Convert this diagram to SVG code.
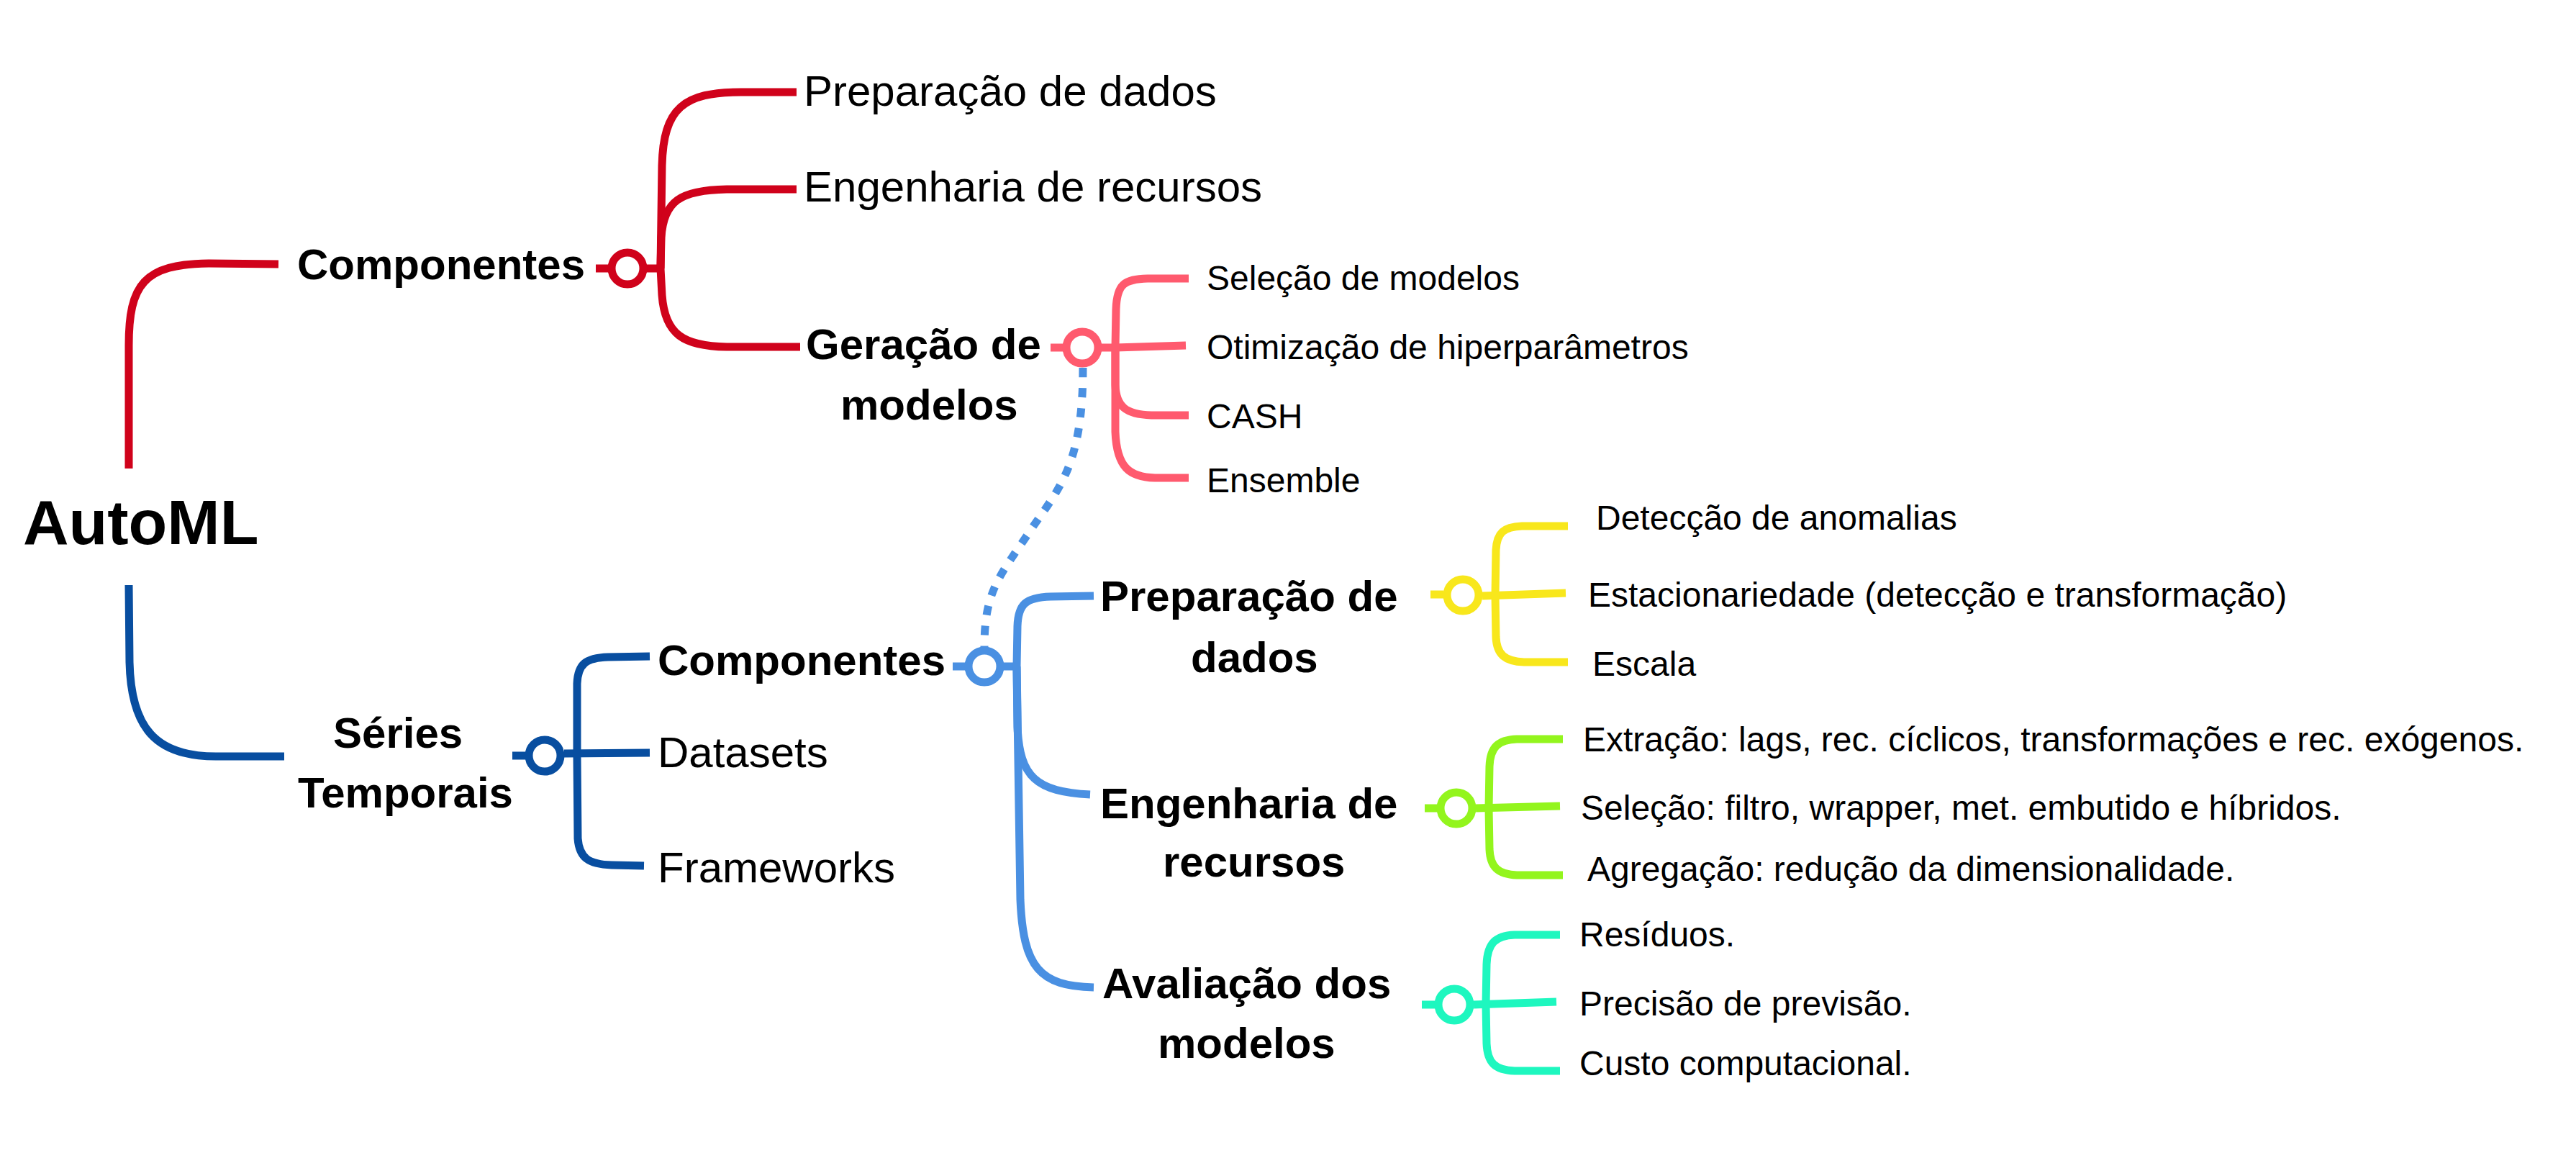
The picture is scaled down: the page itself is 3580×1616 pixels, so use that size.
<svg xmlns="http://www.w3.org/2000/svg" width="3580" height="1616" viewBox="0 0 3580 1616">
<style>
.t{font-family:"Liberation Sans",Arial,sans-serif;fill:#000}
.b{font-weight:bold}
.n60{font-size:60px}
.n47{font-size:48px}
.c{fill:none;stroke-width:11;stroke-linecap:butt;stroke-linejoin:round}
.j{fill:#fff;stroke-width:11}
.red{stroke:#D0021B}
.pink{stroke:#FF5A6E}
.dblue{stroke:#084EA0}
.lblue{stroke:#4A90E2}
.yel{stroke:#F8E71C}
.grn{stroke:#93F51D}
.teal{stroke:#1EF7BF}
</style>
<rect width="3580" height="1616" fill="#fff"/>

<g id="connectors">
  <!-- AutoML level -->
  <path class="c red" d="M179 651 L179 480 C179 395 200 367 290 366 L387 367"/>
  <path class="c dblue" d="M179 813 L180 920 C182 1010 215 1051 300 1051 L395 1051"/>

  <!-- Componentes (red) -->
  <path class="c red" d="M828 373 L850 373 M894 373 L918 373"/>
  <path class="c red" d="M918 373 L920 230 C922 150 950 128 1030 128 L1107 128"/>
  <path class="c red" d="M918 373 L919 330 C922 280 945 264 1010 263 L1107 263"/>
  <path class="c red" d="M918 373 L920 410 C924 465 950 481 1010 482 L1112 482"/>

  <!-- Geração de modelos (pink) -->
  <path class="c pink" d="M1460 483 L1478 483 M1530 483 L1550 483 L1648 480"/>
  <path class="c pink" d="M1550 483 L1551 430 C1552 395 1562 388 1595 387 L1652 387"/>
  <path class="c pink" d="M1550 483 L1550 535 C1551 565 1565 576 1600 577 L1652 577"/>
  <path class="c pink" d="M1550 483 L1550 600 C1552 650 1570 663 1605 664 L1652 664"/>

  <!-- dotted relation -->
  <path class="c lblue" stroke-dasharray="13 15" d="M1505 511 C1505 650 1470 680 1430 740 S1368 820 1368 899"/>

  <!-- Séries Temporais (dark blue) -->
  <path class="c dblue" d="M712 1050 L730 1050 M784 1047 L903 1046"/>
  <path class="c dblue" d="M802 1050 L802 950 C803 922 815 914 845 913 L903 912"/>
  <path class="c dblue" d="M802 1050 L803 1165 C805 1192 818 1201 850 1202 L895 1203"/>

  <!-- Componentes (light blue) -->
  <path class="c lblue" d="M1324 926 L1342 926 M1394 926 L1413 926"/>
  <path class="c lblue" d="M1413 926 L1414 870 C1415 840 1425 830 1460 829 L1520 828"/>
  <path class="c lblue" d="M1413 926 L1414 1010 C1417 1080 1440 1100 1515 1104"/>
  <path class="c lblue" d="M1413 926 L1418 1250 C1422 1345 1445 1370 1520 1372"/>

  <!-- Preparação de dados (yellow) -->
  <path class="c yel" d="M1988 826 L2006 826 M2060 828 L2176 824"/>
  <path class="c yel" d="M2078 827 L2079 765 C2080 740 2090 732 2115 731 L2179 731"/>
  <path class="c yel" d="M2078 827 L2079 885 C2080 910 2092 919 2118 920 L2179 920"/>

  <!-- Engenharia de recursos (green) -->
  <path class="c grn" d="M1980 1123 L1997 1123 M2051 1123 L2168 1120"/>
  <path class="c grn" d="M2069 1123 L2070 1065 C2071 1038 2082 1028 2108 1027 L2172 1027"/>
  <path class="c grn" d="M2069 1123 L2070 1180 C2071 1205 2082 1215 2108 1216 L2172 1216"/>

  <!-- Avaliação dos modelos (teal) -->
  <path class="c teal" d="M1976 1396 L1994 1396 M2048 1396 L2163 1392"/>
  <path class="c teal" d="M2065 1396 L2066 1340 C2067 1311 2078 1300 2105 1299 L2168 1299"/>
  <path class="c teal" d="M2065 1396 L2066 1450 C2067 1477 2078 1487 2105 1488 L2168 1488"/>

  <!-- junction circles -->
  <circle class="j red" cx="872" cy="373" r="22"/>
  <circle class="j pink" cx="1504" cy="483" r="22"/>
  <circle class="j dblue" cx="757" cy="1050" r="22"/>
  <circle class="j lblue" cx="1368" cy="926" r="22"/>
  <circle class="j yel" cx="2033" cy="827" r="22"/>
  <circle class="j grn" cx="2024" cy="1123" r="22"/>
  <circle class="j teal" cx="2021" cy="1396" r="22"/>
</g>

<g id="root"><text class="t b" x="32" y="756" font-size="88">AutoML</text></g>

<g id="componentes-automl"><text class="t b n60" x="413" y="388">Componentes</text></g>
<g id="prep-dados-1"><text class="t n60" x="1117" y="147">Preparação de dados</text></g>
<g id="eng-recursos-1"><text class="t n60" x="1117" y="280">Engenharia de recursos</text></g>
<g id="geracao-modelos"><text class="t b n60" x="1120" y="499">Geração de</text><text class="t b n60" x="1168" y="583">modelos</text></g>
<g id="selecao-modelos"><text class="t n47" x="1677" y="403">Seleção de modelos</text></g>
<g id="otimizacao"><text class="t n47" x="1677" y="499">Otimização de hiperparâmetros</text></g>
<g id="cash"><text class="t n47" x="1677" y="595">CASH</text></g>
<g id="ensemble"><text class="t n47" x="1677" y="684">Ensemble</text></g>

<g id="series-temporais"><text class="t b n60" x="463" y="1039">Séries</text><text class="t b n60" x="414" y="1122">Temporais</text></g>
<g id="componentes-st"><text class="t b n60" x="914" y="938">Componentes</text></g>
<g id="datasets"><text class="t n60" x="914" y="1066">Datasets</text></g>
<g id="frameworks"><text class="t n60" x="914" y="1226">Frameworks</text></g>

<g id="prep-dados-2"><text class="t b n60" x="1529" y="849">Preparação de</text><text class="t b n60" x="1655" y="934">dados</text></g>
<g id="eng-recursos-2"><text class="t b n60" x="1529" y="1137">Engenharia de</text><text class="t b n60" x="1616" y="1218">recursos</text></g>
<g id="avaliacao-modelos"><text class="t b n60" x="1532" y="1387">Avaliação dos</text><text class="t b n60" x="1609" y="1470">modelos</text></g>

<g id="deteccao-anomalias"><text class="t n47" x="2218" y="736">Detecção de anomalias</text></g>
<g id="estacionariedade"><text class="t n47" x="2207" y="843">Estacionariedade (detecção e transformação)</text></g>
<g id="escala"><text class="t n47" x="2213" y="939">Escala</text></g>

<g id="extracao"><text class="t n47" x="2200" y="1044">Extração: lags, rec. cíclicos, transformações e rec. exógenos.</text></g>
<g id="selecao"><text class="t n47" x="2197" y="1139">Seleção: filtro, wrapper, met. embutido e híbridos.</text></g>
<g id="agregacao"><text class="t n47" x="2206" y="1224">Agregação: redução da dimensionalidade.</text></g>

<g id="residuos"><text class="t n47" x="2195" y="1315">Resíduos.</text></g>
<g id="precisao"><text class="t n47" x="2195" y="1411">Precisão de previsão.</text></g>
<g id="custo"><text class="t n47" x="2195" y="1494">Custo computacional.</text></g>
</svg>
